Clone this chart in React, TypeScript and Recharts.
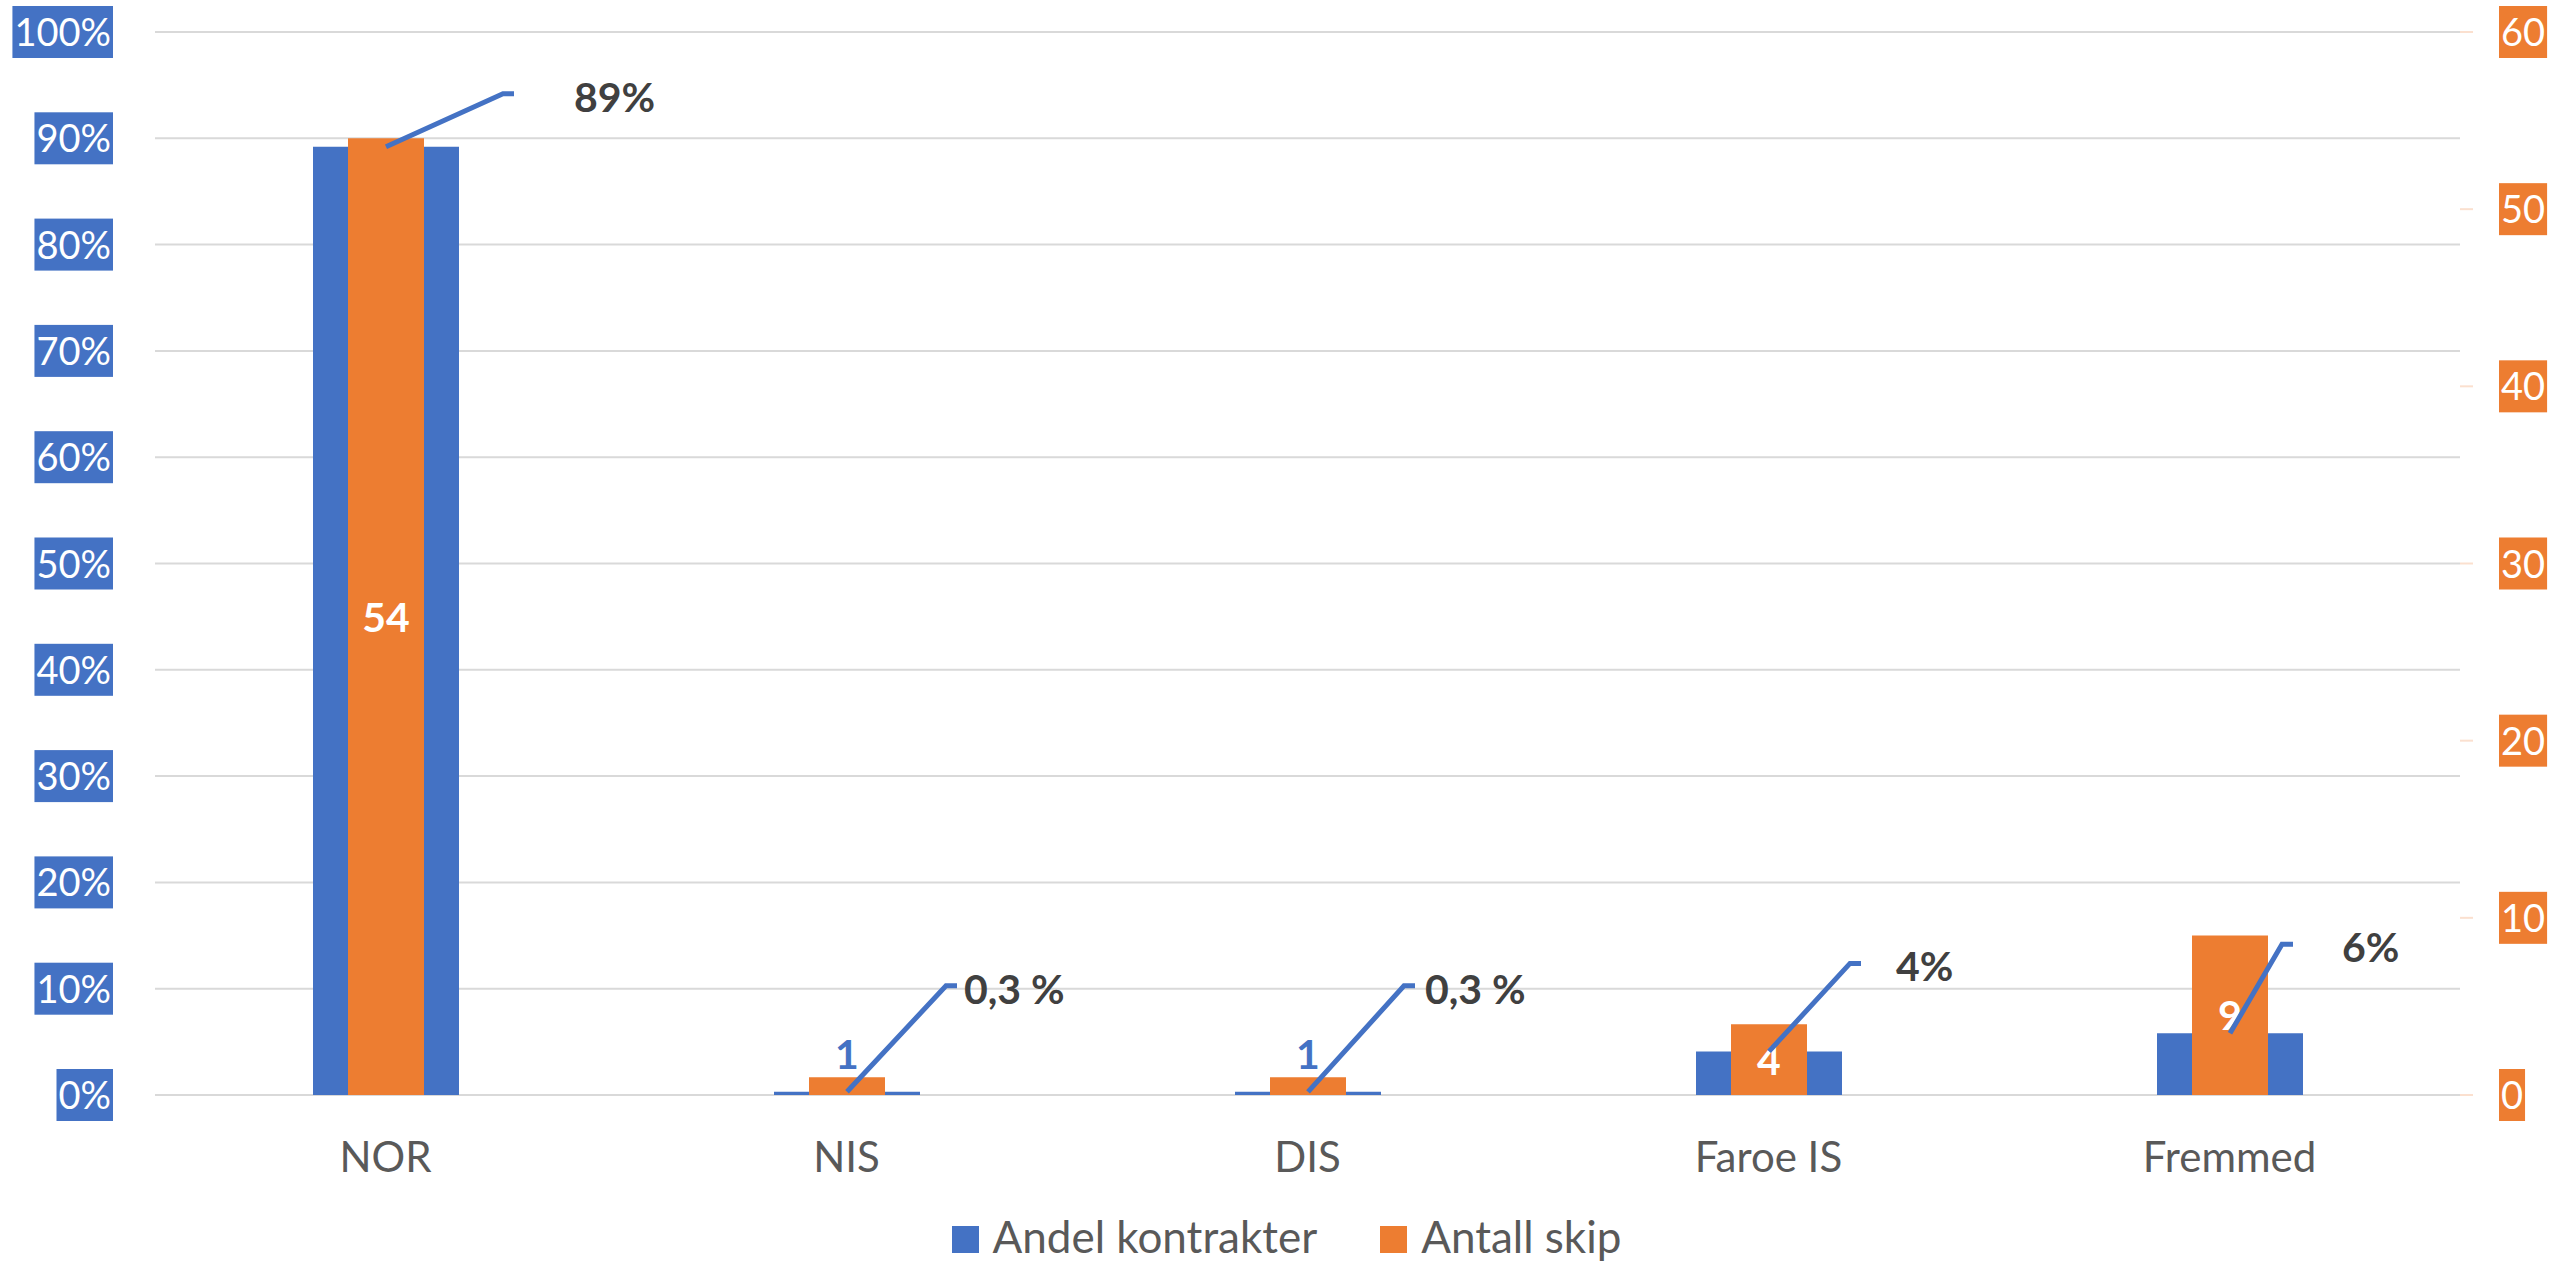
import { useLayoutEffect, useRef, useState } from "react"
import { BarChart, Bar, XAxis, YAxis, CartesianGrid, Legend, LabelList } from "recharts"

const CATEGORIES = ["NOR", "NIS", "DIS", "Faroe IS", "Fremmed"]
const ANDEL_KONTRAKTER = [0.892, 0.003, 0.003, 0.041, 0.058]
const ANDEL_LABELS = ["89%", "0,3 %", "0,3 %", "4%", "6%"]
const ANTALL_SKIP = [54, 1, 1, 4, 9]
const PCT_TICKS = [0, 0.1, 0.2, 0.3, 0.4, 0.5, 0.6, 0.7, 0.8, 0.9, 1]
const COUNT_TICKS = [0, 10, 20, 30, 40, 50, 60]
const SERIES_NAMES = ["Andel kontrakter", "Antall skip"]

const data = CATEGORIES.map((category, i) => ({
  category,
  andel: ANDEL_KONTRAKTER[i],
  skip: ANTALL_SKIP[i],
}))

// leader line bend (dx, dy from bar top) and gap before the label text
const LEADERS = [
  [117, -53, 60],
  [99, -106, 7],
  [96, -106, 10],
  [81, -88, 35],
  [52, -89, 49],
]

const BLUE = "#4472C4"
const ORANGE = "#ED7D31"
const FONT = "Lato, 'Noto Sans', sans-serif"

function BoxTick(props: any) {
  const { x, y, payload, side } = props
  const ref = useRef<SVGTextElement>(null)
  const [bb, setBb] = useState<{ x: number; width: number } | null>(null)
  const label = side === "left" ? `${Math.round(payload.value * 100)}%` : String(payload.value)
  useLayoutEffect(() => {
    if (ref.current) {
      const b = ref.current.getBBox()
      setBb({ x: b.x, width: b.width })
    }
  }, [label])
  const left = side === "left"
  return (
    <g>
      {bb && (
        <rect x={bb.x - 2} y={y - 26} width={bb.width + 4} height={52} fill={left ? BLUE : ORANGE} />
      )}
      <text
        ref={ref}
        x={left ? x - 36 : x + 26}
        y={y}
        dy={14}
        textAnchor={left ? "end" : "start"}
        fill="#fff"
        fontSize={38}
        fontFamily={FONT}
      >
        {label}
      </text>
    </g>
  )
}

function CategoryTick({ x, y, payload }: any) {
  return (
    <text x={x} y={y + 69} textAnchor="middle" fill="#595959" fontSize={42} fontFamily={FONT}>
      {payload.value}
    </text>
  )
}

function SkipLabel(props: any) {
  const vb = props.viewBox ?? props
  const cx = vb.x + vb.width / 2
  const small = Math.abs(vb.height) < 40
  return (
    <text
      x={cx}
      y={small ? vb.y - 8 : vb.y + vb.height / 2 + 15}
      textAnchor="middle"
      fill={small ? BLUE : "#fff"}
      fontSize={41}
      fontWeight={700}
      fontFamily={FONT}
    >
      {props.value}
    </text>
  )
}

function LeaderLabel(props: any) {
  const vb = props.viewBox ?? props
  const i = props.index ?? 0
  const [dx, dy, gap] = LEADERS[i]
  const cx = vb.x + vb.width / 2
  const top = vb.y
  const bx = cx + dx
  const by = top + dy
  return (
    <g>
      <polyline
        points={`${cx},${top} ${bx},${by} ${bx + 11},${by}`}
        fill="none"
        stroke={BLUE}
        strokeWidth={5}
      />
      <text x={bx + 11 + gap} y={by + 18} fill="#404040" fontSize={41} fontWeight={700} fontFamily={FONT}>
        {ANDEL_LABELS[i]}
      </text>
    </g>
  )
}

function LegendContent() {
  return (
    <div
      style={{
        display: "flex",
        justifyContent: "center",
        alignItems: "center",
        paddingLeft: 21,
        fontFamily: FONT,
        fontSize: 44,
        color: "#595959",
        lineHeight: "52px",
      }}
    >
      {SERIES_NAMES.map((name, i) => (
        <div key={name} style={{ display: "flex", alignItems: "center", marginLeft: i ? 63 : 0 }}>
          <span
            style={{
              width: 27,
              height: 27,
              background: i ? ORANGE : BLUE,
              marginRight: 14,
              position: "relative",
              top: 3,
            }}
          />
          <span>{name}</span>
        </div>
      ))}
    </div>
  )
}

export default function App() {
  return (
    <div style={{ position: "absolute", left: 0, top: 0, width: 2552, height: 1262, background: "white" }}>
      <BarChart width={2552} height={1262} data={data} margin={{ top: 32, right: 0, bottom: 0, left: 0 }}>
        <CartesianGrid yAxisId="left" xAxisId="a" vertical={false} stroke="#D9D9D9" strokeWidth={2} />
        <XAxis xAxisId="a" dataKey="category" height={167} axisLine={false} tickLine={false} tick={<CategoryTick />} />
        <XAxis xAxisId="b" dataKey="category" hide />
        <XAxis xAxisId="c" dataKey="category" hide />
        <YAxis
          yAxisId="left"
          domain={[0, 1]}
          ticks={PCT_TICKS}
          width={155}
          axisLine={false}
          tickLine={false}
          tick={<BoxTick side="left" />}
        />
        <YAxis
          yAxisId="right"
          orientation="right"
          domain={[0, 60]}
          ticks={COUNT_TICKS}
          width={92}
          axisLine={false}
          tickSize={13}
          tickLine={{ stroke: "#FBE0CF", strokeWidth: 2 }}
          tick={<BoxTick side="right" />}
        />
        <Bar dataKey="andel" name={SERIES_NAMES[0]} xAxisId="a" yAxisId="left" barSize={146} fill={BLUE} isAnimationActive={false} />
        <Bar dataKey="skip" name={SERIES_NAMES[1]} xAxisId="b" yAxisId="right" barSize={76} fill={ORANGE} isAnimationActive={false}>
          <LabelList dataKey="skip" content={<SkipLabel />} />
        </Bar>
        <Bar dataKey="andel" xAxisId="c" yAxisId="left" barSize={146} fill="none" legendType="none" isAnimationActive={false}>
          <LabelList dataKey="andel" content={<LeaderLabel />} />
        </Bar>
        <Legend
          verticalAlign="middle"
          align="center"
          layout="horizontal"
          content={<LegendContent />}
          wrapperStyle={{ top: 1210, left: 0, width: 2552, height: 52 }}
        />
      </BarChart>
    </div>
  )
}
